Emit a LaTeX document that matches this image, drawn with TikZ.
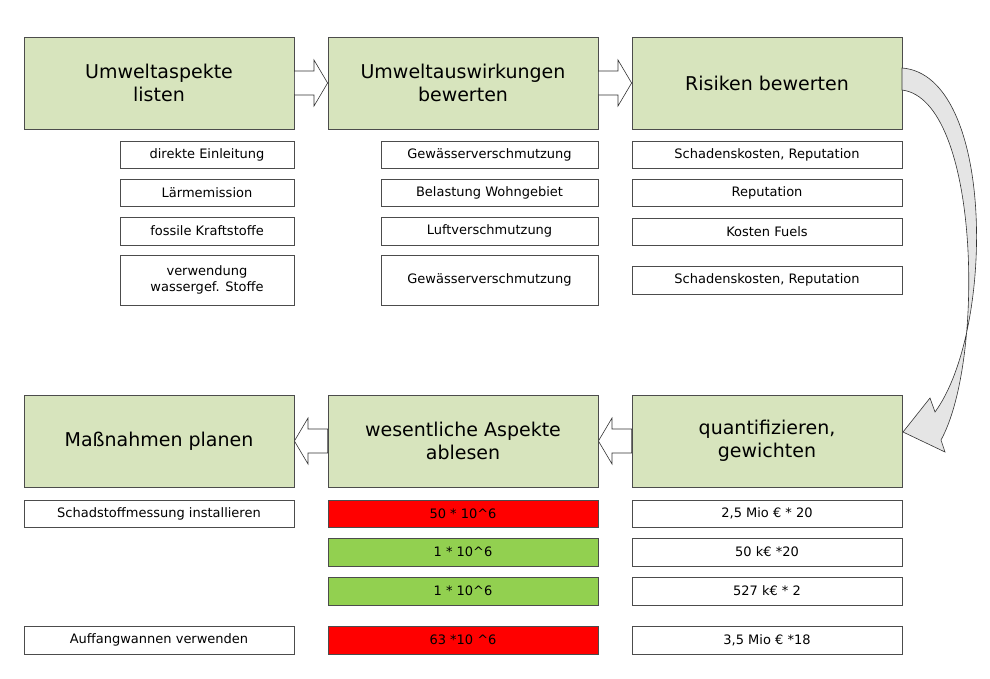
\documentclass[tikz,border=0pt]{standalone}
\usepackage{fontspec}
\setmainfont{DejaVu Sans}
\usetikzlibrary{shapes.arrows}
\definecolor{bg}{HTML}{D7E4BD}
\definecolor{rd}{HTML}{FF0000}
\definecolor{gr}{HTML}{92D050}
\begin{document}
\begin{tikzpicture}[x=1pt,y=-1pt,
 big/.style={draw=black!70,fill=bg,line width=0.8pt,align=center,font=\fontsize{19}{23}\selectfont},
 sm/.style={draw=black!70,fill=white,line width=0.6pt,align=center,font=\fontsize{13}{16}\selectfont},
 blk/.style={draw=black!80,fill=white,line width=0.6pt}]
\useasboundingbox (0,0) rectangle (990,678);
\newcommand\bx[6]{\node[#1,minimum width=#4-#2,minimum height=#5-#3,inner sep=0] (#6) at ({(#2+#4)/2},{(#3+#5)/2}) {};}
% big boxes
\node[big,minimum width=270,minimum height=92] (b1) at (159,83) {Umweltaspekte\\listen};
\node[big,minimum width=270,minimum height=92] (b2) at (463,83) {Umweltauswirkungen\\bewerten};
\node[big,minimum width=270,minimum height=92] (b3) at (767,83) {Risiken bewerten};
\node[big,minimum width=270,minimum height=92] (b4) at (159,441) {Maßnahmen planen};
\node[big,minimum width=270,minimum height=92] (b5) at (463,441) {wesentliche Aspekte\\ablesen};
\node[big,minimum width=270,minimum height=92] (b6) at (767,441) {quantifizieren,\\gewichten};
% block arrows
\draw[blk] (b1.east|-0,71) -- (314,71) -- (314,60) -- (b2.west) -- (314,106) -- (314,95) -- (b1.east|-0,95) -- cycle;
\draw[blk] (b2.east|-0,71) -- (618,71) -- (618,60) -- (b3.west) -- (618,106) -- (618,95) -- (b2.east|-0,95) -- cycle;
\draw[blk] (b5.west|-0,429) -- (308,429) -- (308,418) -- (b4.east) -- (308,464) -- (308,453) -- (b5.west|-0,453) -- cycle;
\draw[blk] (b6.west|-0,429) -- (612,429) -- (612,418) -- (b5.east) -- (612,464) -- (612,453) -- (b6.west|-0,453) -- cycle;
% curved arrow
\draw[black!80,line width=0.6pt,fill=black!10]
 (902,68) .. controls (995,75) and (995,330) .. (935,412)
 -- (930,398) -- (903,432) -- (945,452) -- (941,440)
 .. controls (985,360) and (980,100) .. (902,90) -- cycle;
% small boxes column 1
\node[sm,minimum width=174,minimum height=27] (a1) at (207,154.5) {direkte Einleitung};
\node[sm,minimum width=174,minimum height=27] (a2) at (207,192.5) {Lärmemission};
\node[sm,minimum width=174,minimum height=28] (a3) at (207,231) {fossile Kraftstoffe};
\node[sm,minimum width=174,minimum height=50] (a4) at (207,280) {verwendung\\wassergef. Stoffe};
\node[sm,minimum width=217,minimum height=27] (c1) at (489.5,154.5) {Gewässerverschmutzung};
\node[sm,minimum width=217,minimum height=27] (c2) at (489.5,192.5) {Belastung Wohngebiet};
\node[sm,minimum width=217,minimum height=28] (c3) at (489.5,231) {Luftverschmutzung};
\node[sm,minimum width=217,minimum height=50] (c4) at (489.5,280) {Gewässerverschmutzung};
\node[sm,minimum width=270,minimum height=27] (d1) at (767,154.5) {Schadenskosten, Reputation};
\node[sm,minimum width=270,minimum height=27] (d2) at (767,192.5) {Reputation};
\node[sm,minimum width=270,minimum height=27] (d3) at (767,231.5) {Kosten Fuels};
\node[sm,minimum width=270,minimum height=28] (d4) at (767,280) {Schadenskosten, Reputation};
% row 2
\node[sm,minimum width=270,minimum height=27] (e1) at (159,513.5) {Schadstoffmessung installieren};
\node[sm,minimum width=270,minimum height=28] (e2) at (159,640) {Auffangwannen verwenden};
\node[sm,fill=rd,minimum width=270,minimum height=27] (f1) at (463,513.5) {50 * 10\textasciicircum 6};
\node[sm,fill=gr,minimum width=270,minimum height=28] (f2) at (463,552) {1 * 10\textasciicircum 6};
\node[sm,fill=gr,minimum width=270,minimum height=28] (f3) at (463,591) {1 * 10\textasciicircum 6};
\node[sm,fill=rd,minimum width=270,minimum height=28] (f4) at (463,640) {63 *10 \textasciicircum 6};
\node[sm,minimum width=270,minimum height=27] (g1) at (767,513.5) {2,5 Mio € * 20};
\node[sm,minimum width=270,minimum height=28] (g2) at (767,552) {50 k€ *20};
\node[sm,minimum width=270,minimum height=28] (g3) at (767,591) {527 k€ * 2};
\node[sm,minimum width=270,minimum height=28] (g4) at (767,640) {3,5 Mio € *18};
\end{tikzpicture}
\end{document}
